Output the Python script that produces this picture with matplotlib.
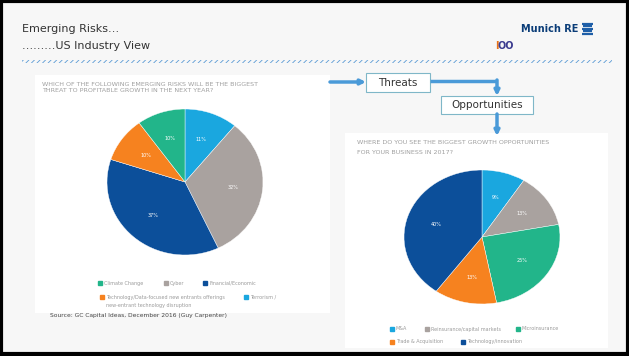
import matplotlib.pyplot as plt
from matplotlib.patches import Rectangle

# data
threat_labels = ["Terrorism", "Cyber", "Financial/Economic",
                 "Technology/Data-focused new entrants", "Climate Change"]
threat_values = [11, 32, 37, 10, 10]
threat_colors = ["#1aa7df", "#a9a29f", "#0c4f9a", "#f6821f", "#22b58a"]

opp_labels = ["M&A", "Reinsurance/capital markets", "Microinsurance",
              "Trade & Acquisition", "Technology/innovation"]
opp_values = [9, 13, 25, 13, 40]
opp_colors = ["#1aa7df", "#a9a29f", "#22b58a", "#f6821f", "#0c4f9a"]

W, H = 629, 356
plt.rcParams["hatch.linewidth"] = 0.6
fig = plt.figure(figsize=(W / 100, H / 100), dpi=100)
fig.patch.set_facecolor("#f7f7f7")

bg = fig.add_axes([0, 0, 1, 1])
bg.set_xlim(0, W)
bg.set_ylim(H, 0)
bg.axis("off")

# frame
bg.add_patch(Rectangle((1, 1), W - 2, H - 3, fill=False, ec="black", lw=3))

# header
bg.text(22, 29, "Emerging Risks…", fontsize=8, color="#333333", va="center")
bg.text(22, 46, "………US Industry View", fontsize=8, color="#333333", va="center")
bg.text(578, 29, "Munich RE", fontsize=7, color="#0b3d78", fontweight="bold",
        ha="right", va="center")
for i, y in enumerate([23.5, 26, 28.5, 31, 33.5]):
    bg.plot([582 + (i % 2), 593 - (i % 2)], [y, y], color="#1f5fa8", lw=1.6,
            solid_capstyle="butt")
bg.text(495, 46, "I", fontsize=7, color="#e8731a", fontweight="bold", va="center")
bg.text(498, 46, "OO", fontsize=7, color="#3b3b8f", fontweight="bold", va="center")
bg.add_patch(Rectangle((22, 59.5), 590, 3, fill=False, hatch="//////",
                       ec="#5b9bd5", lw=0))

# white panels of the pasted charts
bg.add_patch(Rectangle((35, 75), 295, 238, fc="white", ec="none"))
bg.add_patch(Rectangle((345, 133), 263, 215, fc="white", ec="none"))

# questions (tiny grey text)
qkw = dict(fontsize=4.6, color="#a0a0a0", va="center")
bg.text(42, 84, "WHICH OF THE FOLLOWING EMERGING RISKS WILL BE THE BIGGEST", **qkw)
bg.text(42, 91, "THREAT TO PROFITABLE GROWTH IN THE NEXT YEAR?", **qkw)
bg.text(357, 143, "WHERE DO YOU SEE THE BIGGEST GROWTH OPPORTUNITIES", **qkw)
bg.text(357, 152, "FOR YOUR BUSINESS IN 2017?", **qkw)

# flow arrows and boxes
arrow_c = "#4a9ad8"
akw = dict(arrowstyle="-|>", color=arrow_c, lw=2.5, mutation_scale=7,
           shrinkA=0, shrinkB=0)
bg.annotate("", xy=(366, 82), xytext=(330, 82), arrowprops=akw)
bg.add_patch(Rectangle((366, 73), 64, 19, fc="white", ec="#7fb7c8", lw=0.8))
bg.text(398, 82.5, "Threats", fontsize=7.5, color="#333333", ha="center", va="center")
bg.plot([430, 497], [81, 81], color=arrow_c, lw=2.5, solid_capstyle="butt")
bg.annotate("", xy=(497, 96), xytext=(497, 80), arrowprops=akw)
bg.add_patch(Rectangle((441, 96), 92, 18, fc="white", ec="#7fb7c8", lw=0.8))
bg.text(487, 105, "Opportunities", fontsize=7.5, color="#333333", ha="center", va="center")
bg.annotate("", xy=(497, 136), xytext=(497, 114), arrowprops=akw)

bg.text(50, 315, "Source: GC Capital Ideas, December 2016 (Guy Carpenter)",
        fontsize=4.3, color="#444444", va="center")


def pie_axes(cx, cy, rx, ry):
    ax = fig.add_axes([(cx - rx) / W, (H - cy - ry) / H, 2 * rx / W, 2 * ry / H])
    ax.axis("off")
    return ax


def draw_pie(ax, values, colors):
    ax.pie(values, colors=colors, startangle=90, counterclock=False,
           radius=1, autopct="%d%%", pctdistance=0.62,
           wedgeprops=dict(lw=0.3, ec="white"),
           textprops=dict(color="white", fontsize=3.5))
    ax.set_aspect("auto")
    ax.set_xlim(-1, 1)
    ax.set_ylim(-1, 1)


ax1 = pie_axes(185, 182, 78, 73)
draw_pie(ax1, threat_values, threat_colors)

ax2 = pie_axes(482, 237, 78, 67)
draw_pie(ax2, opp_values, opp_colors)

lkw = dict(fontsize=3.5, color="#9a9a9a", va="center")


def legend_item(x, y, color, label):
    bg.plot([x], [y], marker="s", ms=2.2, color=color, mec=color)
    bg.text(x + 4, y, label, **lkw)


# left legend, in the slide's order
legend_item(100, 283, threat_colors[4], threat_labels[4])
legend_item(166, 283, threat_colors[1], threat_labels[1])
legend_item(205, 283, threat_colors[2], threat_labels[2])
legend_item(102, 297, threat_colors[3], threat_labels[3] + " offerings")
legend_item(246, 297, threat_colors[0], threat_labels[0] + " /")
bg.text(106, 305, "new-entrant technology disruption", **lkw)

# right legend
legend_item(392, 329, opp_colors[0], opp_labels[0])
legend_item(427, 329, opp_colors[1], opp_labels[1])
legend_item(518, 329, opp_colors[2], opp_labels[2])
legend_item(392, 342, opp_colors[3], opp_labels[3])
legend_item(463, 342, opp_colors[4], opp_labels[4])

fig.savefig("out.png", dpi=100, facecolor=fig.get_facecolor())
